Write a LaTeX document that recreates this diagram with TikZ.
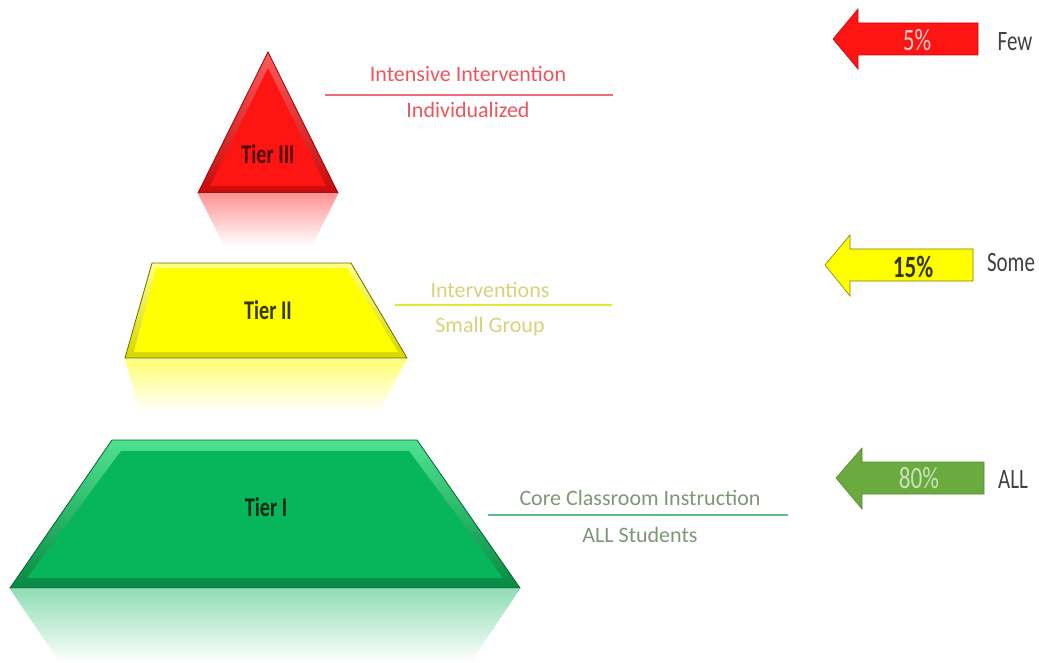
\documentclass[tikz,border=0pt]{standalone}
\usepackage{fontspec}
\setmainfont{Carlito}
\newfontfamily\narrowfont{Carlito}[FakeStretch=0.75]

\definecolor{tred}{HTML}{FF1414}
\definecolor{tredlt}{HTML}{FF5A5A}
\definecolor{treddk}{HTML}{C80A0A}
\definecolor{tyel}{HTML}{FFFF00}
\definecolor{tyellt}{HTML}{FFFF8A}
\definecolor{tyeldk}{HTML}{D6D600}
\definecolor{tgrn}{HTML}{07B55A}
\definecolor{tgrnlt}{HTML}{4FE291}
\definecolor{tgrndk}{HTML}{078A43}
\definecolor{agrn}{HTML}{6AAA3E}
\definecolor{redtxt}{HTML}{EC5560}
\definecolor{yeltxt}{HTML}{D8D27A}
\definecolor{grntxt}{HTML}{7E9777}
\definecolor{grnline}{HTML}{5DBF8E}

\tikzset{
  tierlbl/.style={font=\narrowfont\bfseries\fontsize{27}{30}\selectfont},
  sidelbl/.style={font=\fontsize{22}{24}\selectfont, anchor=base},
  pctlbl/.style={font=\narrowfont\fontsize{31}{33}\selectfont},
  howmany/.style={font=\narrowfont\fontsize{28}{30}\selectfont, text=black!75},
}

\begin{document}
\begin{tikzpicture}[x=1pt,y=-1pt]
  \useasboundingbox (0,0) rectangle (1039,663);

  %reflections
  \shade[top color=tred!45!white, bottom color=white] (198,194) -- (338,194) -- (312,246) -- (224,246) -- cycle;
  \shade[top color=tyel!55!white, bottom color=white] (125,359) -- (407,359) -- (378,412) -- (140,412) -- cycle;
  \shade[top color=tgrn!45!white, bottom color=white] (10,589) -- (520,589) -- (470,663) -- (60,663) -- cycle;

  %tier III
  \shade[top color=tredlt, bottom color=treddk] (268,52) -- (338,193) -- (198,193) -- cycle;
  \fill[tred] (268,68) -- (326,186) -- (210,186) -- cycle;
  \draw[treddk!70!black, line width=0.8pt] (268,52) -- (338,193) -- (198,193) -- cycle;
  \node[tierlbl, text=treddk!40!black] (t3) at (268,154) {Tier III};

  %tier II
  \shade[top color=tyellt, bottom color=tyeldk] (152,263) -- (351,263) -- (407,358) -- (125,358) -- cycle;
  \fill[tyel] (156,268) -- (347,268) -- (398,352) -- (134,352) -- cycle;
  \draw[tyeldk!50!black, line width=0.8pt] (152,263) -- (351,263) -- (407,358) -- (125,358) -- cycle;
  \node[tierlbl, text=tyeldk!25!black] (t2) at (268,310) {Tier II};

  %tier I
  \shade[top color=tgrnlt, bottom color=tgrndk] (112,440) -- (417,440) -- (520,588) -- (10,588) -- cycle;
  \fill[tgrn] (121,451) -- (409,451) -- (503,578) -- (27,578) -- cycle;
  \draw[tgrndk!70!black, line width=0.8pt] (112,440) -- (417,440) -- (520,588) -- (10,588) -- cycle;
  \node[tierlbl, text=tgrndk!30!black] (t1) at (266,507) {Tier I};

  %labels
  \coordinate (r1) at (325,95);
  \coordinate (r2) at (613,95);
  \draw[redtxt!85!white, line width=1.8pt] (r1) -- (r2);
  \node[sidelbl, text=redtxt] (int3) at (468,82) {Intensive Intervention};
  \node[sidelbl, text=redtxt] (ind3) at (468,118) {Individualized};

  \coordinate (y1) at (395,305);
  \coordinate (y2) at (612,305);
  \draw[tyel!75!olive!80!white, line width=1.8pt] (y1) -- (y2);
  \node[sidelbl, text=yeltxt] (int2) at (490,297) {Interventions};
  \node[sidelbl, text=yeltxt] (sg2) at (490,332) {Small Group};

  \coordinate (g1) at (488,515);
  \coordinate (g2) at (788,515);
  \draw[grnline, line width=1.8pt] (g1) -- (g2);
  \node[sidelbl, text=grntxt] (core1) at (640,505) {Core Classroom Instruction};
  \node[sidelbl, text=grntxt] (all1) at (640,542) {ALL Students};

  %arrows
  \draw[fill=tred, draw=treddk, line width=0.6pt] (833,39) -- (858,9) -- (858,23) -- (978,23) -- (978,55) -- (858,55) -- (858,69) -- cycle;
  \draw[fill=tyel, draw=tyeldk!60!black, line width=0.6pt] (825,265) -- (850,235) -- (850,249) -- (973,249) -- (973,281) -- (850,281) -- (850,296) -- cycle;
  \draw[fill=agrn, draw=agrn!80!black, line width=0.6pt] (836,478) -- (862,448) -- (862,462) -- (984,462) -- (984,494) -- (862,494) -- (862,509) -- cycle;

  \node[pctlbl, text=red!20!white] (p5) at (917,40) {5\%};
  \node[pctlbl, text=tyeldk!25!black, font=\narrowfont\bfseries\fontsize{31}{33}\selectfont] (p15) at (913,267) {15\%};
  \node[pctlbl, text=agrn!35!white] (p80) at (919,478) {80\%};

  \node[howmany] (few) at (1015,42) {Few};
  \node[howmany] (some) at (1011,263) {Some};
  \node[howmany] (all) at (1013,480) {ALL};
\end{tikzpicture}
\end{document}
